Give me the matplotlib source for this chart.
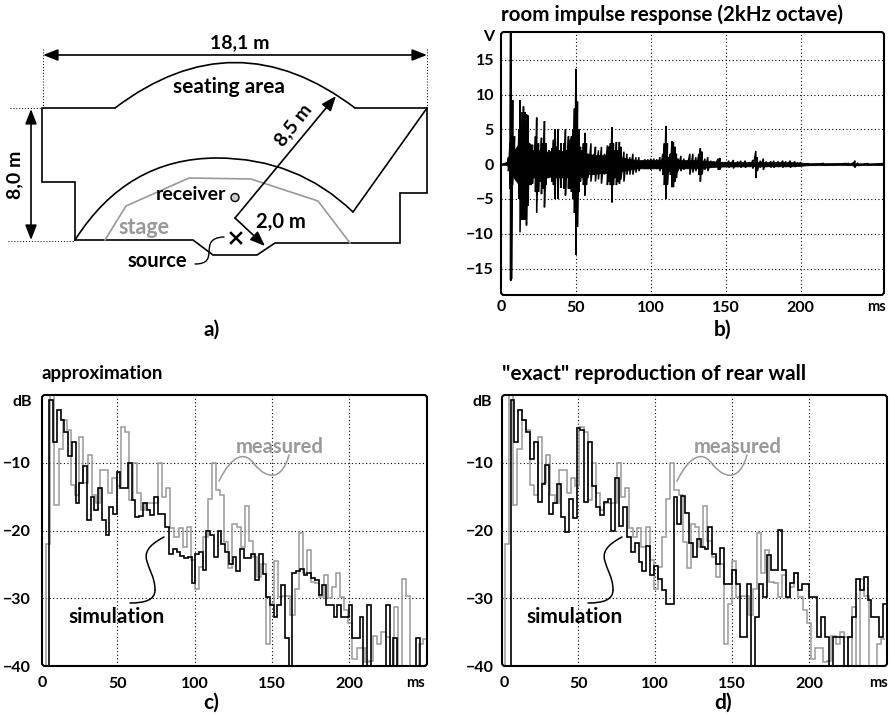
import numpy as np
import matplotlib
matplotlib.use("Agg")
import matplotlib.pyplot as plt
from matplotlib.patches import FancyBboxPatch, PathPatch, Circle
from matplotlib.path import Path

FONT = "Lato"
GREY = "#999999"

# Impulse response envelope, panel b (ms, V)
ir_t = [0, 4, 5, 6, 6.4, 6.6, 7, 7.8, 9, 10, 11, 12, 12.7, 14, 15, 16, 17, 18, 19, 20, 21, 22, 23, 23.8, 25, 26, 27, 28, 29, 30,
        31, 32, 33, 34, 35, 36, 37, 38, 39, 40, 41, 42, 43, 44, 45, 46, 47, 48, 49, 50, 51, 52, 53, 54, 55, 56, 57, 58,
        60, 62, 63, 65, 67, 69, 71, 72, 73, 74, 75, 76, 77, 78, 79, 80, 82, 84, 86, 88, 90, 92, 94, 96, 98, 100, 102, 104,
        106, 108, 109, 110, 111, 112, 113, 114, 115, 116, 117, 118, 120, 122, 124, 126, 128, 130, 132, 133, 134, 136, 138,
        140, 142, 145, 146, 148, 150, 152, 155, 158, 160, 163, 166, 168, 170, 171, 173, 175, 177, 180, 182, 185, 188, 190,
        193, 196, 198, 200, 205, 215, 230, 232, 235, 236, 238, 245, 255]
ir_up = [.1, .2, 1, 3, 18.9, 18.9, 5, 9.2, 4, 1, 1.5, 5, 9.2, 7.5, 8.3, 7.5, 7.2, 7, 3, 2.8, 2.8, 2, 4, 6.7, 3, 2, 3.8, 3, 6.2, 3,
         1.5, 2, 1.8, 2.3, 3.5, 5, 2.5, 5, 2, 3, 1.8, 3, 5, 2, 4, 3.5, 4, 5, 8, 13.7, 9, 5, 2.5, 2, 3, 4.5, 3, 1.5,
         3, 1.5, 2.5, 2, 2.5, 1.5, 2.7, 2.5, 3, 5.3, 3, 2, 3.2, 2, 3.2, 2.5, 1.8, 1.5, 1, 1.5, 1, 1, .5, .7, .7, .8, .8, .7,
         1, 1.5, 3, 5.5, 3, 1, 1.5, 3.3, 3.2, 2.5, 1.5, .8, 1.2, .8, .5, 1.5, 1.5, 1, 1.5, 2.3, 1.8, .8, 1,
         .5, .4, .8, .9, .3, .3, .5, .6, .4, .5, .5, .3, .6, 1.9, 1, .5, .8, .4, .4, .5, .4, .5, .4,
         .5, .4, .2, .3, .1, .1, .1, .15, .2, .5, .2, .1, .1]
ir_lo = [-.1, -.2, -1, -3.5, -16.7, -16.7, -16.5, -3, -1.5, -1, -2, -5, -9.8, -8, -8, -8, -8.8, -6, -3, -3, -2.8, -2, -4, -7, -4, -2.5, -4.3, -3.5, -6.2, -3,
         -2, -2, -1.8, -2.5, -3, -5, -2, -5, -2, -3.4, -2, -3.5, -4.5, -2, -3.5, -3.5, -4, -5, -7, -13, -9, -4, -2.5, -2, -3, -4.5, -3, -2,
         -2.5, -1.5, -2.5, -2.2, -2.8, -1.5, -3, -2.5, -3, -5.5, -3, -2, -3, -2.5, -2.8, -2.2, -2.5, -1.5, -1.5, -1.5, -1.2, -1, -.5, -.7, -.7, -.8, -.5, -.7,
         -1, -1.5, -3, -5, -3, -1, -1.5, -3.3, -3.3, -2.5, -2, -1, -1, -.8, -.5, -1.5, -1.2, -1, -1.5, -2.5, -1.5, -.8, -1,
         -.5, -.4, -.8, -.8, -.3, -.3, -.5, -.6, -.4, -.5, -.5, -.4, -.6, -2, -1, -.5, -.8, -.4, -.5, -.5, -.4, -.5, -.4,
         -.5, -.4, -.2, -.2, -.15, -.1, -.1, -.2, -.3, -.5, -.2, -.1, -.1]

# Solid black core of the trace, half height (ms, V)
core_t = [0, 4, 6, 12, 20, 40, 60, 75, 90, 110, 130, 145, 165, 195, 205, 255]
core_v = [.08, .1, 1.2, 3, 1.8, 1.8, 1.4, 1.2, .6, .6, .6, .35, .3, .3, .15, .12]

# Measured octave band level, panels c and d (dB)
measured = [-40, -22, 0, -16.3, -7.9, -3.7, -5.2, -13.3, -14.8, -6.2, -13, -8.9, -14.8, -16, -11, -11, -14.5, -12.3, -13.5,
            -4.7, -5.4, -15.5, -10, -14.5, -17, -16, -16, -16, -10, -15, -13.8, -19.7, -21, -19.7, -22.5, -19.5, -24.4, -28.6,
            -25.4, -21, -15.3, -10, -14, -14.8, -21.7, -25.6, -19, -19.5, -22.5, -16.4, -21.5, -23.9, -26.8, -25, -36.7, -30.8,
            -24.5, -29.8, -29.6, -29.6, -32.5, -28.6, -20.4, -26.3, -22.9, -27.6, -27.8, -29.8, -26.6, -30, -28.3, -26.3, -29.8,
            -31.8, -33.7, -39, -37.4, -37.4, -39.4, -39.2, -35.6, -36.7, -35, -35.7, -40, -31.3, -40, -27.2, -29.6, -40, -40,
            -36.7, -36]

# Simulation, panel c (dB)
sim_c = [-40, -40, -0.8, -7, -2.2, -3.7, -5.5, -9, -7, -16, -13, -10.5, -18.4, -15, -17, -13.7, -18.5, -20.7, -16.5, -17.5,
         -11.3, -13.8, -13.8, -10, -15.5, -18, -17.8, -16, -17, -17.7, -15, -17.5, -17.5, -19.5, -23.5, -22.7, -23.2, -23.8,
         -24, -23.9, -27.8, -23.4, -23.2, -25.8, -20, -20.7, -23.9, -20, -22, -23.2, -24.9, -23.9, -26, -22.7, -24.1, -24.1,
         -23.4, -27.3, -23.4, -26.4, -29.8, -31, -32.8, -31, -28, -35.8, -40, -26.3, -26, -25.7, -26.5, -26.3, -27, -27.3,
         -29.5, -28, -31, -31, -32.8, -31, -32.8, -32.8, -31, -35.8, -35.8, -32.8, -40, -31, -40, -40, -40, -40, -31, -40,
         -35.8, -40, -40, -40, -40, -40, -35.8, -40, -40]

# Simulation, panel d (dB)
sim_d = [-40, -40, -0.8, -7, -2.2, -3.7, -5.4, -9.5, -7, -15.8, -13.2, -10.4, -17.5, -16, -13.2, -18, -20.2, -15.4, -18.2,
         -4.9, -5.2, -15.8, -6.9, -13.4, -16.5, -17.7, -15.8, -15.4, -20, -12.2, -19.3, -16.5, -21, -23.2, -21.8, -24.6,
         -26, -22.3, -26.6, -25.2, -27.2, -28.8, -30.9, -30.9, -15, -19, -14.9, -17.4, -21.9, -23.9, -21.3, -22.4, -22.8,
         -19.5, -23.4, -25, -22.6, -27.9, -27.9, -25.8, -27.9, -35.7, -35.7, -27.9, -40, -32.8, -27.9, -29.8, -23.6, -25.8,
         -25.8, -19.9, -25.8, -29.8, -27.8, -26.3, -28.8, -27.9, -27.9, -29.8, -29.8, -35.7, -32.7, -35.7, -40, -35.7, -35.7,
         -35.7, -40, -35.7, -32.7, -27.2, -28.8, -26.8, -30.3, -32.7, -32.7, -35.7, -30.9]

v_ticks = [-15, -10, -5, 0, 5, 10, 15]
db_ticks = [-40, -30, -20, -10]
ms_ticks = [50, 100, 150, 200]

# Room plan outline, pixel positions on the figure
plan_x = [75, 75, 42, 42, 115]
plan_y = [240, 182, 182, 108, 108]
plan_right_x = [355, 427, 427, 400, 400, 275, 257, 213, 193, 75]
plan_right_y = [108, 108, 193, 193, 243, 243, 255, 255, 240, 240]
stage_x = [105, 126, 189, 251, 318, 350]
stage_y = [240, 206, 178, 179, 201, 243]


def minus(v):
    return str(v).replace("-", "\u2212")


def label(x, y, s, size=13, color="black", ha="center", va="center", rot=0):
    over.text(x, y, s, fontsize=size, color=color, ha=ha, va=va, rotation=rot,
              family=FONT, weight="bold")


def make_axes(left, right, top, bottom, xpad, ypad):
    a = fig.add_axes([left / W, 1 - bottom / H, (right - left) / W, (bottom - top) / H])
    for s in a.spines.values():
        s.set_visible(False)
    a.patch.set_alpha(0)
    a.grid(True, color="black", lw=0.8, ls=(0, (1, 2.2)))
    a.set_axisbelow(True)
    a.tick_params(axis="x", length=0, pad=xpad)
    a.tick_params(axis="y", length=0, pad=ypad)
    over.add_patch(FancyBboxPatch((left + 3, top + 3), right - left - 6, bottom - top - 6,
                                  boxstyle="round,pad=3,rounding_size=3", fc="none", ec="black", lw=1.5))
    return a


def tick_font(a):
    for t in a.get_xticklabels() + a.get_yticklabels():
        t.set_family(FONT)
        t.set_weight("bold")
        t.set_fontsize(11.5)


def curve(pts, color="black", lw=1.1):
    codes = [Path.MOVETO] + [Path.CURVE4] * (len(pts) - 1)
    over.add_patch(PathPatch(Path(pts, codes), fc="none", ec=color, lw=lw, capstyle="round"))


def arrow(p0, p1, style="-|>"):
    over.annotate("", xy=p1, xytext=p0, arrowprops=dict(arrowstyle=style + ",head_length=0.9,head_width=0.35",
                                                        color="black", lw=1.2, shrinkA=0, shrinkB=0))


W, H = 890, 715
fig = plt.figure(figsize=(W / 100, H / 100), dpi=100)
over = fig.add_axes([0, 0, 1, 1], zorder=5)
over.set_xlim(0, W)
over.set_ylim(H, 0)
over.axis("off")

# a) room plan
over.plot(plan_x, plan_y, color="black", lw=1.2, solid_joinstyle="miter")
over.plot(plan_right_x, plan_right_y, color="black", lw=1.2, solid_joinstyle="miter")
over.plot([427, 353], [108, 212], color="black", lw=1.2)
over.plot(stage_x, stage_y, color=GREY, lw=1.2)
over.add_patch(PathPatch(Path([(115, 108), (235, 17), (355, 108)], [Path.MOVETO, Path.CURVE3, Path.CURVE3]),
                         fc="none", ec="black", lw=1.2))
over.add_patch(PathPatch(Path([(75, 240), (127, 158), (217, 158), (297, 158), (353, 212)],
                              [Path.MOVETO, Path.CURVE3, Path.CURVE3, Path.CURVE3, Path.CURVE3]),
                         fc="none", ec="black", lw=1.2))
over.plot([43, 43], [49, 108], color="black", lw=0.7, ls=(0, (1, 2)))
over.plot([427, 427], [49, 108], color="black", lw=0.7, ls=(0, (1, 2)))
over.plot([10, 42], [108, 108], color="black", lw=0.7, ls=(0, (1, 2)))
over.plot([8, 75], [241, 241], color="black", lw=0.7, ls=(0, (1, 2)))
arrow((43, 55), (427, 55), "<|-|>")
arrow((31, 109), (31, 240), "<|-|>")
arrow((235, 218), (336, 96))
arrow((235, 218), (265, 246))
over.add_patch(Circle((235, 197.5), 4, fc="#cccccc", ec="black", lw=1, zorder=6))
over.plot([231, 241], [233, 243], color="black", lw=1.8)
over.plot([241, 231], [233, 243], color="black", lw=1.8)
curve([(195, 264), (222, 264), (196, 238), (224, 237)], lw=1)
label(240, 43, "18,1 m", 14)
label(15, 175, "8,0 m", 14, rot=90)
label(229, 87, "seating area", 15)
label(293, 125, "8,5 m", 14, rot=52)
label(191, 195, "receiver", 14)
label(144, 227, "stage", 15.5, color=GREY)
label(281, 222, "2,0 m", 14.5)
label(157, 261, "source", 14.5)
label(212, 330, "a)", 15)

# b) impulse response, a trace swinging between the two envelopes over a solid core
ax_b = make_axes(501, 884, 32, 295, 4, 5)
trace_t = np.repeat(ir_t, 2)
trace_v = np.column_stack([ir_up, ir_lo]).ravel()
ax_b.plot(trace_t, trace_v, color="black", lw=1.1, solid_joinstyle="miter")
ax_b.fill_between(core_t, -np.array(core_v), core_v, color="black", lw=0.5)
ax_b.set_xlim(0, 255.5)
ax_b.set_ylim(-18.8, 19)
ax_b.set_xticks(ms_ticks)
ax_b.set_yticks(v_ticks)
ax_b.set_yticklabels([minus(v) for v in v_ticks])
tick_font(ax_b)
label(501, 15, "room impulse response (2kHz octave)", 14.8, ha="left")
label(489, 37, "V", 11.5)
label(501, 307, "0", 11.5)
label(867, 307, "ms", 10.5, ha="left")
label(723, 330, "b)", 15)

# c) and d) level plots
for left, sim, shift, title, tsize, name, dx, ypad in [(42, sim_c, 0, "approximation", 13.5, "c)", 0, 8),
                                                       (502, sim_d, -1.2, "\"exact\" reproduction of rear wall", 15, "d)", 458, 6)]:
    ax = make_axes(left, left + 385, 395, 666, 8, ypad)
    edges = np.linspace(1.1, 250.5, len(measured) + 1) + shift
    ax.stairs(measured, edges, color=GREY, lw=1.1, baseline=None)
    ax.stairs(sim, np.linspace(1.1, 250.5, len(sim) + 1), color="black", lw=1.2, baseline=None)
    ax.set_xlim(1.1 if dx == 0 else 0.6, 250.5)
    ax.set_ylim(-40, 0)
    ax.set_xticks(ms_ticks)
    ax.set_yticks(db_ticks)
    ax.set_yticklabels([minus(v) for v in db_ticks])
    tick_font(ax)
    label(left, 374, title, tsize, ha="left")
    label(left - 20, 402, "dB", 11.5)
    label(left + (0 if dx == 0 else 2), 683, "0", 11.5)
    label(left + (364 if dx == 0 else 367), 683, "ms", 10.5, ha="left")
    label(211 + dx * 1.118, 703, name, 15)
    label(280 + dx, 447, "measured", 14.5, color=GREY)
    label(117 + dx, 617, "simulation", 15)
    curve([(219 + dx, 481), (232 + dx, 455), (245 + dx, 450), (255 + dx, 465)], GREY)
    curve([(255 + dx, 465), (268 + dx, 480), (282 + dx, 480), (289 + dx, 455)], GREY)
    curve([(164 + dx, 537), (130 + dx, 555), (155 + dx, 565), (155 + dx, 590)])
    curve([(155 + dx, 590), (155 + dx, 600), (145 + dx, 603), (130 + dx, 603)])

fig.savefig("out.png", dpi=100)
